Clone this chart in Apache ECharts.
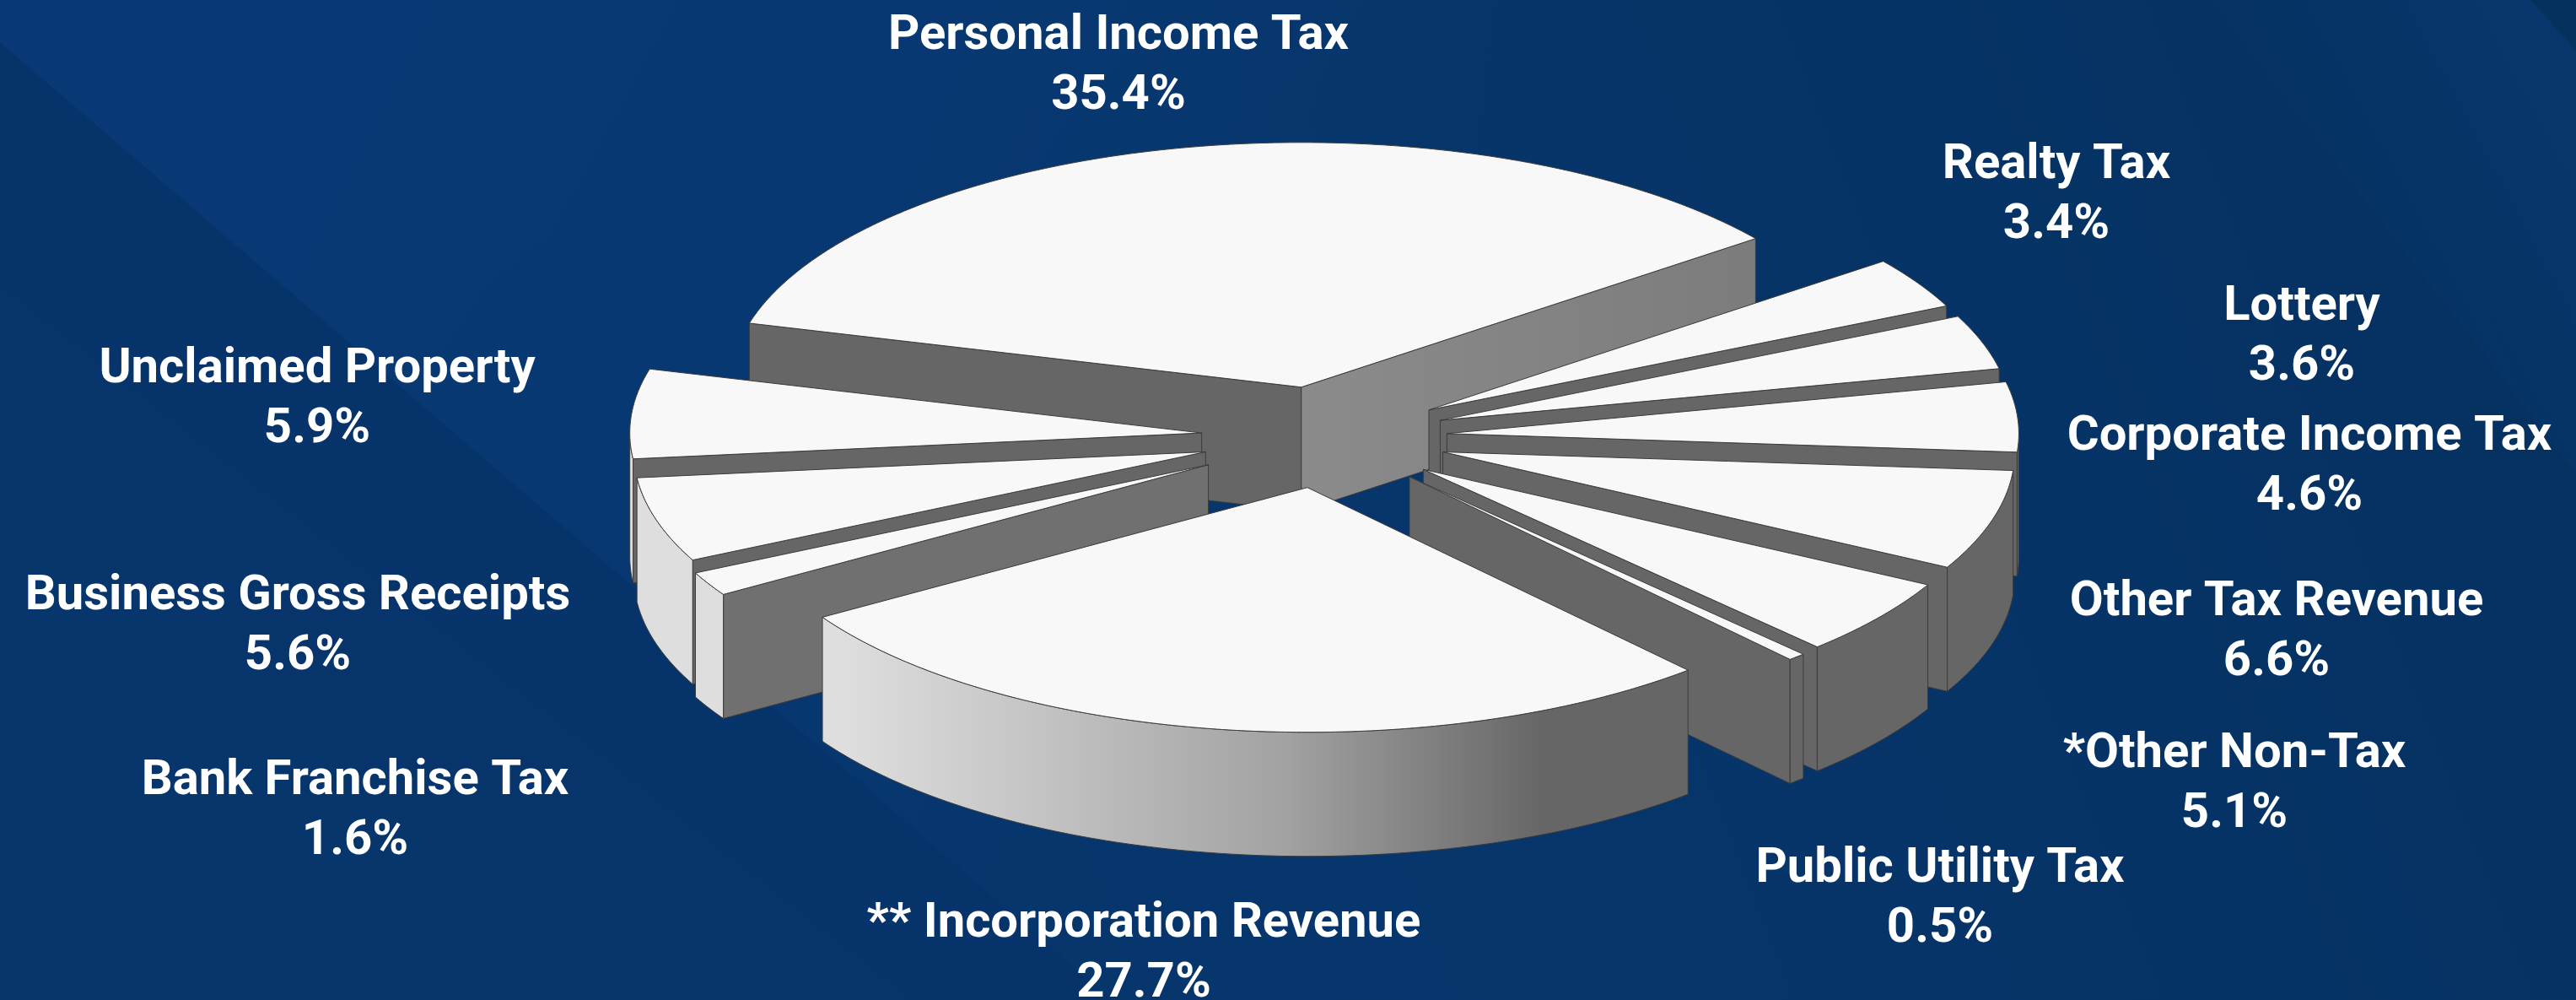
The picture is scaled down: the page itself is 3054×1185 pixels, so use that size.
<!DOCTYPE html>
<html>
<head>
<meta charset="utf-8">
<style>html,body{margin:0;padding:0;background:#06336a}#chart{width:3054px;height:1185px}</style>
<script src="https://cdn.jsdelivr.net/npm/echarts@6/dist/echarts.min.js"></script>
</head>
<body>
<div id="chart"></div>
<script>
// ---- data, clockwise from the left rim of the largest slice ----
const categories = ['Personal Income Tax','Realty Tax','Lottery','Corporate Income Tax','Other Tax Revenue','*Other Non-Tax','Public Utility Tax','** Incorporation Revenue','Bank Franchise Tax','Business Gross Receipts','Unclaimed Property'];
const shares = [35.4,3.4,3.6,4.6,6.6,5.1,0.5,27.7,1.6,5.6,5.9];

// ---- layout and style ----
const drawOrder = [0,1,2,3,4,5,6,10,9,8,7];
const labelAnchors = [[1326,79],[2438,232],[2729,400],[2738,554],[2699,750],[2649,930],[2300,1066],[1356,1131],[421,962],[353,743],[376,474]];
const explodeBy = [0.208,0.214,0.214,0.215,0.216,0.218,0.22,0.208,0.232,0.216,0.215];
const pie = {cx:1570, cy:518, a:678, b:290, h:147, startDeg:-74.84};
const topFill = '#f8f8f8', edge = '#3c3c3c', wallFill = '#666666';

const total = shares.reduce((s,v)=>s+v,0);
function sliceAngles(i){
  let before = 0;
  for(let k=0;k<i;k++) before += shares[k];
  const start = pie.startDeg + before/total*360;
  return [start, start + shares[i]/total*360];
}
const rad = d => d*Math.PI/180;
const arcFill = new echarts.graphic.LinearGradient(1000,0,1830,0,[
  {offset:0,color:'#dedede'},{offset:0.63,color:'#a2a2a2'},{offset:1,color:'#666666'}],true);
const personalEndFill = new echarts.graphic.LinearGradient(1541,0,2078,0,[
  {offset:0,color:'#8b8b8b'},{offset:1,color:'#7c7c7c'}],true);

const seriesData = drawOrder.map(i=>[i,shares[i]]);

function renderSlice(params, api){
  const i = api.value(0);
  const [t1,t2] = sliceAngles(i);
  const mid = (t1+t2)/2;
  const e = explodeBy[i];
  const ox = pie.cx + e*pie.a*Math.sin(rad(mid));
  const oy = pie.cy - e*pie.b*Math.cos(rad(mid));
  const rim = t => [ox+pie.a*Math.sin(rad(t)), oy-pie.b*Math.cos(rad(t))];
  const down = p => [p[0],p[1]+pie.h];
  const poly = (points,fill) => ({type:'polygon',shape:{points},style:{fill,stroke:edge,lineWidth:1,lineJoin:'round'}});
  const apex = [ox,oy];
  const kids = [];
  // radial cut walls that face the viewer
  if(Math.sin(rad(t1))<0){
    const r = rim(t1);
    kids.push(poly([apex,r,down(r),down(apex)], i===8 ? '#707070' : wallFill));
  }
  if(Math.sin(rad(t2))>0){
    const r = rim(t2);
    kids.push(poly([apex,r,down(r),down(apex)], i===0 ? personalEndFill : wallFill));
  }
  // rim wall for the part of the arc facing the viewer
  const f1 = Math.max(t1,90), f2 = Math.min(t2,270);
  if(f2>f1){
    const top=[], bottom=[];
    const n = Math.max(2,Math.ceil(f2-f1)*2);
    for(let k=0;k<=n;k++){
      const p = rim(f1+(f2-f1)*k/n);
      top.push(p); bottom.unshift(down(p));
    }
    kids.push(poly(top.concat(bottom),arcFill));
  }
  // top face
  const face=[apex];
  const n = Math.max(2,Math.ceil(t2-t1)*2);
  for(let k=0;k<=n;k++) face.push(rim(t1+(t2-t1)*k/n));
  kids.push(poly(face,topFill));
  // label
  kids.push({type:'text',x:labelAnchors[i][0],y:labelAnchors[i][1],z2:10,
    style:{text:categories[i]+'\n'+api.value(1).toFixed(1)+'%',fill:'#ffffff',
      font:'700 58px Roboto, "Noto Sans", sans-serif',align:'center',verticalAlign:'middle',lineHeight:71}});
  return {type:'group',children:kids};
}

const W=3054,H=1185;
const bg = [
  {type:'rect',shape:{x:0,y:0,width:W,height:H},silent:true,
   style:{fill:new echarts.graphic.LinearGradient(0,1,1,0,[
     {offset:0,color:'#06346c'},{offset:0.5,color:'#07366d'},{offset:1,color:'#05315f'}])}},
  // lighter wedge above the long diagonal on the left, fading out to the right
  {type:'polygon',shape:{points:[[0,50],[0,0],[1900,0],[1700,1185],[1320,1185]]},silent:true,
   style:{fill:new echarts.graphic.LinearGradient(400,200,1500,800,[
     {offset:0,color:'rgba(11,62,124,0.5)'},{offset:0.95,color:'rgba(11,62,124,0)'}],true)}},
  // darker zone below the diagonal
  {type:'polygon',shape:{points:[[0,50],[1320,1185],[0,1185]]},silent:true,
   style:{fill:new echarts.graphic.LinearGradient(560,540,200,1000,[
     {offset:0,color:'#06336a'},{offset:1,color:'#07366d'}],true)}},
  // faint band in the upper right corner
  {type:'polygon',shape:{points:[[2620,0],[3000,0],[3054,60],[3054,560]]},silent:true,
   style:{fill:new echarts.graphic.LinearGradient(2700,200,3000,40,[
     {offset:0,color:'rgba(8,56,112,0)'},{offset:1,color:'rgba(8,56,112,0.8)'}],true)}}
];

const chart = echarts.init(document.getElementById('chart'),null,{renderer:'canvas',width:W,height:H});
chart.setOption({
  animation:false,
  graphic:{elements:bg},
  series:[{type:'custom',coordinateSystem:'none',silent:true,data:seriesData,renderItem:renderSlice,clip:false}]
});
</script>
</body>
</html>
